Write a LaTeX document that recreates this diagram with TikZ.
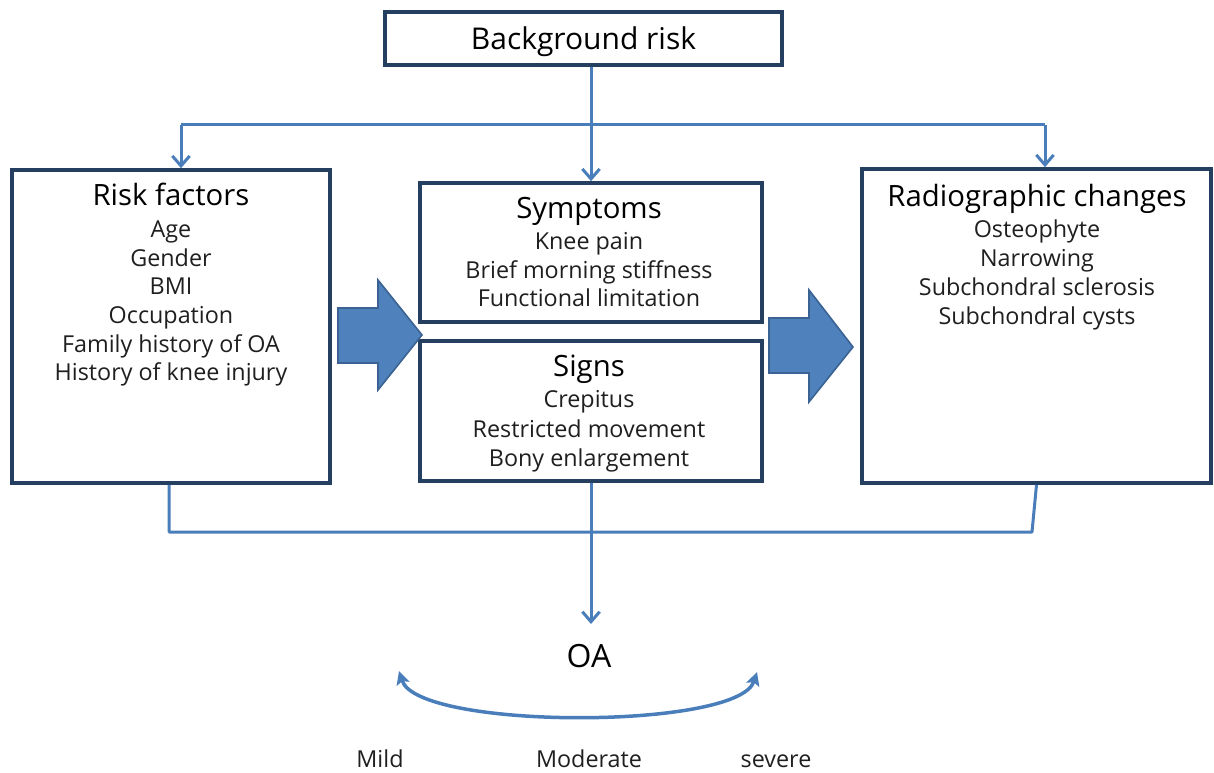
\documentclass[tikz,border=0pt]{standalone}
\usepackage{fontspec}
\setmainfont{Open Sans}
\usetikzlibrary{arrows.meta}
\definecolor{linkblue}{HTML}{4A7EBB}
\definecolor{boxedge}{HTML}{243F60}
\definecolor{bigfill}{HTML}{4F81BD}
\definecolor{bigedge}{HTML}{3A6293}
\def\pxu{0.75pt}
\begin{document}
\begin{tikzpicture}[x=0.75pt,y=-0.75pt,
  box/.style={draw=boxedge, line width=3.6*\pxu, fill=white, inner sep=0pt},
  conn/.style={draw=linkblue, line width=3*\pxu},
  vtip/.style={-{Straight Barb[length=7.5pt,width=13pt]}},
  bothtips/.style={{Stealth[length=10pt,width=10pt,inset=2pt]}-{Stealth[length=10pt,width=10pt,inset=2pt]}},
  head/.style={anchor=base, inner sep=0pt, font=\fontsize{22}{26}\selectfont},
  item/.style={anchor=base, inner sep=0pt, font=\fontsize{17.5}{20}\selectfont, text=black!88},
  fat/.style={fill=bigfill, draw=bigedge, line width=1.2pt, line join=miter}]

\useasboundingbox (0,0) rectangle (1214,773);

% boxes
\node[box, minimum width=397*\pxu, minimum height=53*\pxu] (bg) at (583.5,38.5) {};
\node[box, minimum width=318*\pxu, minimum height=313*\pxu] (rf) at (171,326.5) {};
\node[box, minimum width=342*\pxu, minimum height=139*\pxu] (sym) at (591,252.5) {};
\node[box, minimum width=342*\pxu, minimum height=140*\pxu] (sig) at (591,411) {};
\node[box, minimum width=349*\pxu, minimum height=314*\pxu] (rc) at (1036.5,326) {};

% top distribution
\coordinate (lt) at (181,125);
\coordinate (rt) at (1045,125);
\draw[conn] (lt) -- (rt);
\draw[conn, vtip] (bg.south -| sym.north) -- (sym.north);
\draw[conn, vtip] (lt) -- (lt |- rf.north);
\draw[conn, vtip] (rt) -- (rt |- rc.north);

% bottom collection
\coordinate (lb) at (169,532);
\coordinate (rb) at (1032,532);
\coordinate (oatip) at (591,624);
\draw[conn, line join=round] (lb |- rf.south) -- (lb) -- (rb) -- (rc.south);
\draw[conn, vtip] (sig.south) -- (oatip);

% block arrows
\draw[fat] (338,308) -- (378,308) -- (378,280) -- (422,335) -- (378,390) -- (378,363) -- (338,363) -- cycle;
\draw[fat] (769,318) -- (809,318) -- (809,290) -- (853,347) -- (809,402) -- (809,373) -- (769,373) -- cycle;

% texts
\node[anchor=base, inner sep=0pt, font=\fontsize{22.5}{26}\selectfont] (bgt) at (583.5,50) {Background risk};

\node[head] (rft) at (171,206) {Risk factors};
\node[item] (rf1) at (171,238) {Age};
\node[item] (rf2) at (171,267) {Gender};
\node[item] (rf3) at (171,295) {BMI};
\node[item] (rf4) at (171,324) {Occupation};
\node[item] (rf5) at (171,353) {Family history of OA};
\node[item] (rf6) at (171,381) {History of knee injury};

\node[head] (symt) at (589,219) {Symptoms};
\node[item] (sym1) at (589,250) {Knee pain};
\node[item] (sym2) at (589,279) {Brief morning stiffness};
\node[item] (sym3) at (589,307) {Functional limitation};

\node[head] (sigt) at (589,377) {Signs};
\node[item] (sig1) at (589,408) {Crepitus};
\node[item] (sig2) at (589,438) {Restricted movement};
\node[item] (sig3) at (589,466) {Bony enlargement};

\node[head] (rct) at (1037,207) {Radiographic changes};
\node[item] (rc1) at (1037,238) {Osteophyte};
\node[item] (rc2) at (1037,267) {Narrowing};
\node[item] (rc3) at (1037,296) {Subchondral sclerosis};
\node[item] (rc4) at (1037,325) {Subchondral cysts};

% outcome and severity scale
\node[anchor=base, inner sep=0pt, font=\fontsize{24}{28}\selectfont] (oa) at (589,667) {OA};
\coordinate (arcl) at (399,671);
\coordinate (arcr) at (757,672);
\draw[draw=linkblue, line width=3.5*\pxu, bothtips, fill=none] (arcl) .. controls (418,730) and (738,730) .. (arcr);

\node[item] (mild) at (380,767) {Mild};
\node[item] (mod) at (589,767) {Moderate};
\node[item] (sev) at (776,767) {severe};
\end{tikzpicture}
\end{document}
